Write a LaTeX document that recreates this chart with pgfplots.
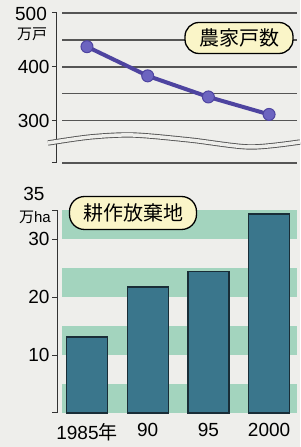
\documentclass[border=0pt]{standalone}
\usepackage{pgfplots}
\pgfplotsset{compat=1.18}
\usepackage{fontspec}
\setmainfont{Liberation Sans}
\newfontfamily\cjk{Noto Sans CJK JP}
\definecolor{bg}{RGB}{238,238,235}
\definecolor{gridc}{RGB}{85,85,85}
\definecolor{linec}{RGB}{78,68,160}
\definecolor{markc}{RGB}{108,100,192}
\definecolor{barc}{RGB}{58,118,140}
\definecolor{bard}{RGB}{25,45,55}
\definecolor{band}{RGB}{163,212,190}
\definecolor{boxc}{RGB}{250,245,200}
\begin{document}
\begin{tikzpicture}[x=1pt,y=1pt]
\fill[bg] (0,0) rectangle (300,447);
\path[use as bounding box] (0,0) rectangle (300,447);
% top chart
\begin{axis}[at={(57pt,284pt)}, anchor=south west, scale only axis,
  width=240pt, height=150pt, xmin=-0.494, xmax=3.46, ymin=222, ymax=500,
  axis x line=none, axis y line=left,
  y axis line style={-, line width=1pt, black!80},
  ytick={222,300,400,500}, yticklabels={,300,400,},
  tick align=outside, major tick length=5pt,
  ytick style={line width=1pt, black!80},
  yticklabel style={font=\fontsize{19}{19}\selectfont, xshift=1pt},
  clip=false]
\draw[gridc, line width=1.1pt] (axis cs:-0.41,300) -- (axis cs:3.46,300);
\draw[gridc, line width=1.1pt] (axis cs:-0.41,350) -- (axis cs:3.46,350);
\draw[gridc, line width=1.1pt] (axis cs:-0.41,400) -- (axis cs:3.46,400);
\draw[gridc, line width=1.1pt] (axis cs:-0.41,450) -- (axis cs:3.46,450);
\draw[gridc, line width=1.1pt] (axis cs:-0.41,500) -- (axis cs:3.46,500);
\draw[gridc, line width=1.1pt] (axis cs:-0.41,222) -- (axis cs:3.46,222);
\addplot[linec, line width=4pt, mark=*, mark size=6pt,
  mark options={fill=markc, draw=linec, line width=1pt}]
  coordinates {(0,437.6) (1,383.5) (2,344.4) (3,312.0)};
\end{axis}
% wavy break
\draw[gridc, line width=0.9pt, double=bg, double distance=3.5pt]
  plot[smooth] coordinates {(48,304) (90,310) (133,312) (190,307) (250,300) (300,305)};
% labels top
\node[font=\fontsize{19}{19}\selectfont] at (31,433) {500};
\node[font=\cjk\fontsize{15}{15}\selectfont] at (32,413) {万戸};
\node[draw=black, line width=1.3pt, fill=boxc, rounded corners=14pt,
  minimum width=108pt, minimum height=31pt, inner sep=0pt,
  font=\cjk\fontsize{20}{20}\selectfont] at (239,409) {農家戸数};
% bottom chart
\begin{axis}[at={(57pt,34pt)}, anchor=south west, scale only axis,
  width=240pt, height=203pt, xmin=-0.494, xmax=3.46, ymin=0, ymax=35,
  axis x line=bottom, axis y line=left,
  x axis line style={draw=none},
  y axis line style={-, line width=1pt, black!80},
  xtick={0,1,2,3}, xticklabels={1985{\cjk 年},90,95,2000},
  xtick style={draw=none},
  xticklabel style={font=\fontsize{19}{19}\selectfont, yshift=-2pt},
  ytick={0,10,20,30,35}, yticklabels={,10,20,30,},
  tick align=outside, major tick length=5pt,
  ytick style={line width=1pt, black!80},
  yticklabel style={font=\fontsize{19}{19}\selectfont, xshift=1pt},
  ybar, bar width=41pt,
  clip=false]
\fill[band] (axis cs:-0.41,0) rectangle (axis cs:3.46,5);
\fill[band] (axis cs:-0.41,10) rectangle (axis cs:3.46,15);
\fill[band] (axis cs:-0.41,20) rectangle (axis cs:3.46,25);
\fill[band] (axis cs:-0.41,30) rectangle (axis cs:3.46,35);
\addplot[fill=barc, draw=bard, line width=1.3pt]
  coordinates {(0,13.1) (1,21.7) (2,24.4) (3,34.3)};
\end{axis}
\node[font=\fontsize{19}{19}\selectfont] at (34,253) {35};
\node[font=\fontsize{15}{15}\selectfont] at (35,230) {{\cjk 万}ha};
\node[draw=black, line width=1.3pt, fill=boxc, rounded corners=15pt,
  minimum width=127pt, minimum height=33pt, inner sep=0pt,
  font=\cjk\fontsize{20}{20}\selectfont] at (133,234) {耕作放棄地};
\end{tikzpicture}
\end{document}
